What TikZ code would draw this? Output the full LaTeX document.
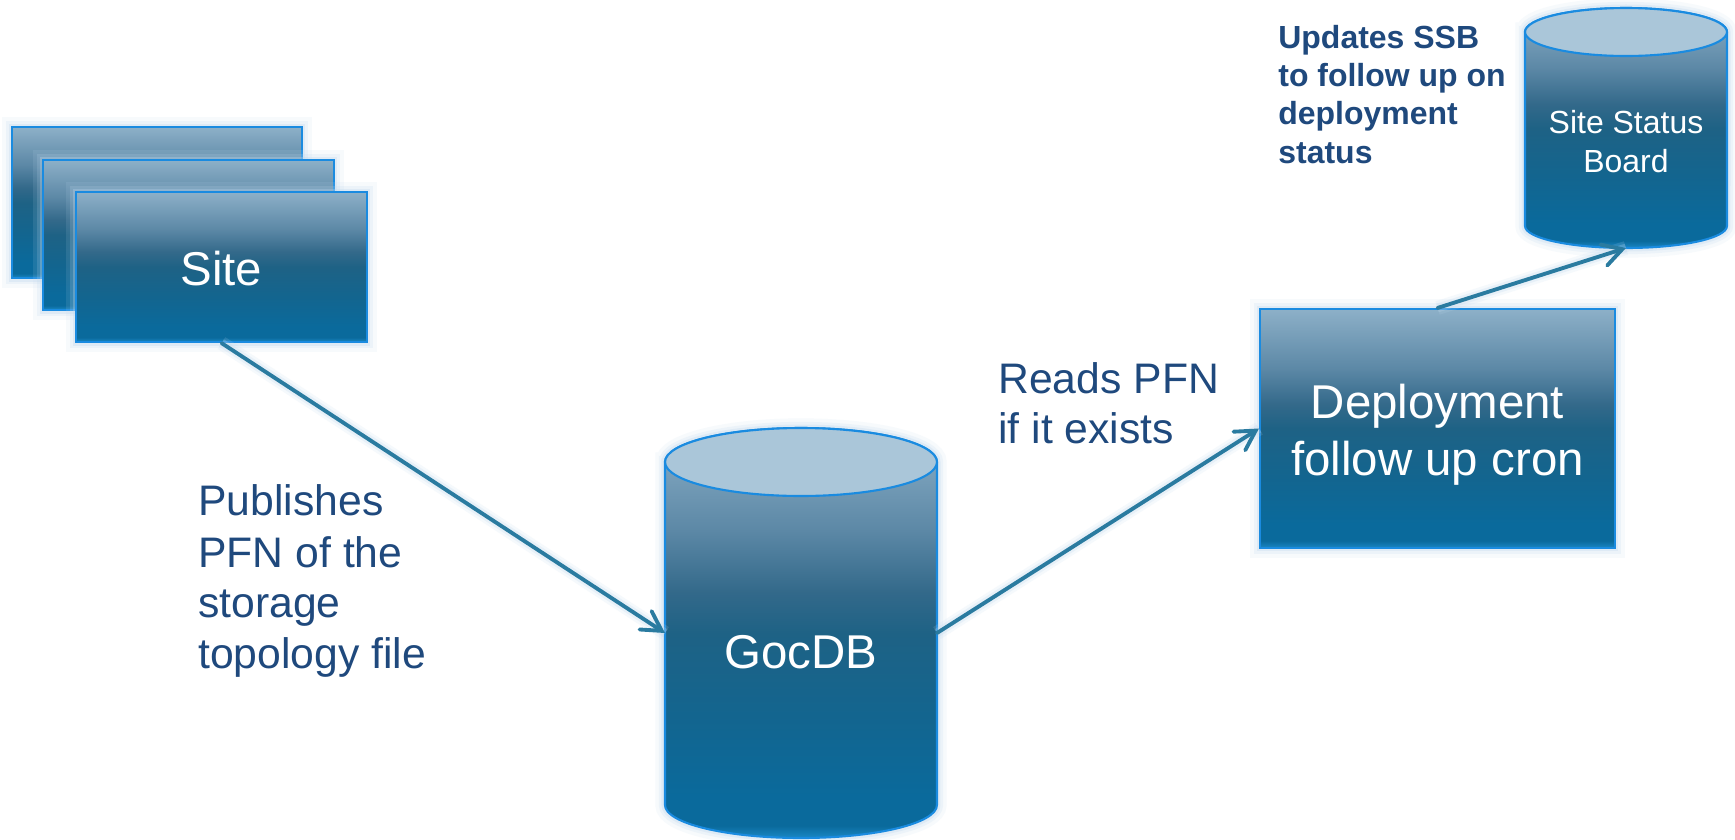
\documentclass[tikz,border=0pt]{standalone}
\usepackage{fontspec}
\setmainfont{Liberation Sans}
\usetikzlibrary{arrows.meta}
\definecolor{textc}{RGB}{31,73,125}
\definecolor{connc}{RGB}{42,123,160}
\definecolor{borderc}{RGB}{26,139,224}
\definecolor{glowc}{RGB}{190,216,238}
\definecolor{capc}{RGB}{170,198,217}
\definecolor{shA}{RGB}{141,176,200}
\definecolor{shB}{RGB}{92,136,166}
\definecolor{shC}{RGB}{51,105,138}
\definecolor{shD}{RGB}{30,98,133}
\definecolor{shE}{RGB}{19,101,143}
\definecolor{shF}{RGB}{10,106,156}
\definecolor{shG}{RGB}{26,136,198}
\pgfdeclareverticalshading{boxsh}{100bp}{color(0bp)=(shG); color(25bp)=(shG); color(26.5bp)=(shF); color(30bp)=(shF); color(40bp)=(shE); color(50bp)=(shD); color(55bp)=(shC); color(62.5bp)=(shB); color(75bp)=(shA); color(100bp)=(shA)}
\tikzset{
  glowing/.style={
    preaction={draw=glowc, line width=11pt, opacity=0.12},
    preaction={draw=glowc, line width=7pt, opacity=0.18},
    preaction={draw=glowc, line width=4pt, opacity=0.3}},
  boxnode/.style={rectangle, draw=borderc, line width=1.2pt, shading=boxsh, inner sep=0pt, glowing},
  cylbody/.style={draw=borderc, line width=1.2pt, shading=boxsh, glowing},
  capst/.style={draw=borderc, line width=1.2pt, fill=capc},
  hit/.style={rectangle, draw=none, inner sep=0pt, outer sep=0pt},
  bigtxt/.style={font=\fontsize{27}{30}\selectfont, text=white, anchor=base, inner sep=0pt},
  midtxt/.style={font=\fontsize{18.2}{22}\selectfont, text=white, anchor=base, inner sep=0pt},
  lbl/.style={font=\fontsize{24.3}{28}\selectfont, text=textc, anchor=base west, inner sep=0pt},
  blbl/.style={font=\bfseries\fontsize{18.2}{21}\selectfont, text=textc, anchor=base west, inner sep=0pt},
  conn/.style={draw=connc, line width=2.2pt, line cap=round,
    -{Straight Barb[length=11pt,width=12.5pt,line cap=round]},
    preaction={draw=glowc, line width=8pt, opacity=0.15, -},
    preaction={draw=glowc, line width=5pt, opacity=0.25, -}}
}
\begin{document}
\begin{tikzpicture}[x=0.02cm,y=-0.02cm]
\useasboundingbox[fill=white] (0,0) rectangle (1735,839);

% Site stack
\node[boxnode, minimum width=5.8cm, minimum height=3.02cm] (site1) at (157,202.5) {};
\node[boxnode, minimum width=5.82cm, minimum height=3.0cm] (site2) at (188.5,235) {};
\node[boxnode, minimum width=5.82cm, minimum height=3.0cm] (site3) at (221.5,267) {};
\node[bigtxt] (sitetxt) at (221.5,285) {Site};

% GocDB cylinder
\path[cylbody] (665,462) -- (665,805)
  arc[start angle=180, end angle=360, x radius=2.72cm, y radius=0.66cm]
  -- (937,462)
  arc[start angle=0, end angle=180, x radius=2.72cm, y radius=0.68cm] -- cycle;
\draw[capst] (801,462) ellipse[x radius=2.72cm, y radius=0.68cm];
\node[hit, minimum width=5.44cm, minimum height=8.2cm] (gocdb) at (801,633) {};
\node[bigtxt] (goctxt) at (801,668) {GocDB};

% Deployment box
\node[boxnode, minimum width=7.1cm, minimum height=4.78cm] (deploy) at (1437.5,428.5) {};
\node[bigtxt] (dep1) at (1437.5,418) {Deployment};
\node[bigtxt] (dep2) at (1437.5,475) {follow up cron};

% Site Status Board cylinder
\path[cylbody] (1525,32) -- (1525,226)
  arc[start angle=180, end angle=360, x radius=2.02cm, y radius=0.44cm]
  -- (1727,32)
  arc[start angle=0, end angle=180, x radius=2.02cm, y radius=0.48cm] -- cycle;
\draw[capst] (1626,32) ellipse[x radius=2.02cm, y radius=0.48cm];
\node[hit, minimum width=4.04cm, minimum height=4.8cm] (ssb) at (1626,128) {};
\node[midtxt] (ssb1) at (1626,133) {Site Status};
\node[midtxt] (ssb2) at (1626,172) {Board};

% Labels
\node[lbl] (pub1) at (198,515) {Publishes};
\node[lbl] (pub2) at (198,567) {PFN of the};
\node[lbl] (pub3) at (198,617) {storage};
\node[lbl] (pub4) at (198,668) {topology file};
\node[lbl] (rd1) at (998,393) {Reads PFN};
\node[lbl] (rd2) at (998,443) {if it exists};
\node[blbl] (up1) at (1278,48) {Updates SSB};
\node[blbl] (up2) at (1278,86) {to follow up on};
\node[blbl] (up3) at (1278,124) {deployment};
\node[blbl] (up4) at (1278,163) {status};

% Connectors
\draw[conn] (site3.south) -- (gocdb.west);
\draw[conn] (gocdb.east) -- (deploy.west);
\draw[conn] (deploy.north) -- (ssb.south);
\end{tikzpicture}
\end{document}
